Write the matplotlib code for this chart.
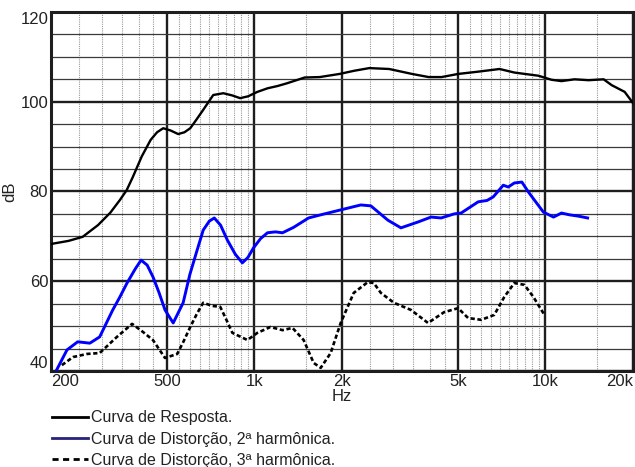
import matplotlib
matplotlib.use('Agg')
import matplotlib.pyplot as plt
from matplotlib.lines import Line2D
from matplotlib.ticker import NullFormatter

plt.rcParams['font.family'] = ['Liberation Sans', 'DejaVu Sans']

# response curve (Hz, dB)
resp_f = [200, 230, 257, 290, 320, 345, 364, 382, 410, 440, 463, 486, 515, 547, 575,
          602, 635, 667, 722, 782, 840, 893, 950, 1024, 1110, 1200, 1292, 1488, 1676,
          1963, 2200, 2482, 2904, 3478, 3970, 4396, 5017, 5866, 6958, 7833, 9460,
          10490, 11350, 12590, 14070, 15850, 16890, 18720, 20000]
resp_db = [68.3, 69.0, 69.9, 72.5, 75.3, 78.1, 80.3, 83.2, 87.8, 91.5, 93.2, 94.1, 93.6,
           92.8, 93.2, 94.1, 96.2, 98.2, 101.5, 101.9, 101.4, 100.8, 101.2, 102.2,
           103.0, 103.5, 104.1, 105.4, 105.5, 106.2, 106.9, 107.5, 107.3, 106.2,
           105.5, 105.5, 106.2, 106.7, 107.3, 106.5, 105.8, 104.9, 104.6, 105.0,
           104.8, 105.0, 103.7, 102.2, 99.7]

# 2nd harmonic distortion
h2_f = [209, 227, 247, 272, 294, 326, 345, 365, 390, 408, 428, 448, 470, 493, 526,
        569, 600, 636, 667, 700, 728, 765, 807, 860, 909, 950, 992, 1050, 1109,
        1180, 1249, 1363, 1535, 1690, 1979, 2320, 2512, 2876, 3188, 3648, 4046,
        4380, 4856, 5132, 5876, 6300, 6618, 7164, 7454, 7818, 8300, 8738, 9162,
        9842, 10660, 11354, 12098, 12998, 13960]
h2_db = [40.2, 44.7, 46.5, 46.2, 47.6, 53.6, 56.5, 59.6, 62.8, 64.7, 63.6, 61.0, 57.5,
         53.6, 50.7, 55.2, 61.5, 67.0, 71.4, 73.4, 74.1, 72.5, 69.2, 66.0, 64.1,
         65.3, 67.4, 69.5, 70.8, 71.0, 70.8, 72.0, 74.1, 74.8, 75.9, 77.0, 76.8, 73.6,
         71.9, 73.2, 74.3, 74.1, 75.0, 75.2, 77.7, 78.0, 78.8, 81.4, 81.0, 81.9,
         82.1, 79.9, 78.1, 75.4, 74.3, 75.2, 74.8, 74.5, 74.1]

# 3rd harmonic distortion
h3_f = [218, 238, 266, 294, 337, 380, 414, 448, 493, 543, 570, 602, 635, 667, 717,
        763, 800, 840, 946, 1024, 1135, 1249, 1352, 1476, 1598, 1690, 1828, 1979,
        2194, 2452, 2572, 2720, 3016, 3452, 3950, 4484, 5012, 5426, 6018, 6670,
        7222, 7818, 8466, 9092, 9920]
h3_db = [41.3, 43.1, 43.8, 44.0, 47.6, 50.5, 48.7, 46.9, 42.9, 43.8, 46.5, 49.8, 52.8,
         55.2, 54.5, 54.3, 51.5, 48.5, 46.9, 48.5, 49.8, 49.1, 49.6, 46.9, 41.8, 40.7,
         44.0, 50.7, 57.4, 59.8, 59.6, 57.4, 55.2, 53.6, 50.7, 53.1, 54.0, 51.8, 51.4,
         52.5, 56.5, 59.6, 59.2, 56.5, 52.5]

xticks = [200, 500, 1000, 2000, 5000, 10000, 20000]
xlabels = ['200', '500', '1k', '2k', '5k', '10k', '20k']
xminor = ([250, 300, 350, 400, 450] + list(range(550, 1000, 50)) + [1500]
          + list(range(2500, 5000, 500)) + list(range(5500, 10000, 500)) + [15000])
yticks = [40, 60, 80, 100, 120]
yminor = [45, 50, 55, 65, 70, 75, 85, 90, 95, 105, 110, 115]

labels = ['Curva de Resposta.', 'Curva de Distorção, 2ª harmônica.',
          'Curva de Distorção, 3ª harmônica.']

fig = plt.figure(figsize=(6.35, 4.67), dpi=100)
ax = fig.add_axes([0.0803, 0.2056, 0.9166, 0.7687])

ax.plot(resp_f, resp_db, color='black', lw=1.7, zorder=3)
ax.plot(h2_f, h2_db, color='#0000ff', lw=2.1, zorder=3)
ax.plot(h3_f, h3_db, color='black', lw=1.9, ls=(0, (1.6, 1.0)), zorder=3)

ax.set_xscale('log')
ax.set_xlim(200, 20000)
ax.set_ylim(40, 120)
ax.set_xticks(xticks)
ax.set_xticklabels(xlabels)
ax.set_xticks(xminor, minor=True)
ax.xaxis.set_minor_formatter(NullFormatter())
ax.set_yticks(yticks)
ax.set_yticks(yminor, minor=True)
ax.tick_params(which='both', length=0, labelsize=12, colors='#222222')
ax.tick_params(axis='x', pad=2)
ax.tick_params(axis='y', pad=2)

xt = ax.get_xticklabels()
xt[0].set_ha('left')
xt[-1].set_ha('right')
yt = ax.get_yticklabels()
yt[0].set_va('bottom')
yt[-1].set_va('top')

ax.set_axisbelow(True)
ax.grid(which='major', axis='both', color='#1e1e1e', lw=1.7, ls='-')
ax.grid(which='minor', axis='y', color='#3a3a3a', lw=0.9, ls='-')
ax.grid(which='minor', axis='x', color='#9a9a9a', lw=0.8, ls=(0, (1, 1)))
for s in ax.spines.values():
    s.set_linewidth(2.2)
    s.set_color('#1e1e1e')

ax.set_xlabel('Hz', fontsize=12, color='#222222', labelpad=0)
ax.set_ylabel('dB', fontsize=12, color='#222222', labelpad=2)

handles = [Line2D([], [], color='black', lw=2.0),
           Line2D([], [], color='#27237a', lw=2.0),
           Line2D([], [], color='black', lw=2.0, ls=(0, (2.2, 1.6)))]
leg = fig.legend(handles, labels, loc='upper left', bbox_to_anchor=(0.082, 0.121),
                 frameon=False, fontsize=11.5, handlelength=2.25, handletextpad=0.2,
                 labelspacing=0.38, borderpad=0, borderaxespad=0)
for t in leg.get_texts():
    t.set_color('#222222')

plt.savefig('out.png', dpi=100)
